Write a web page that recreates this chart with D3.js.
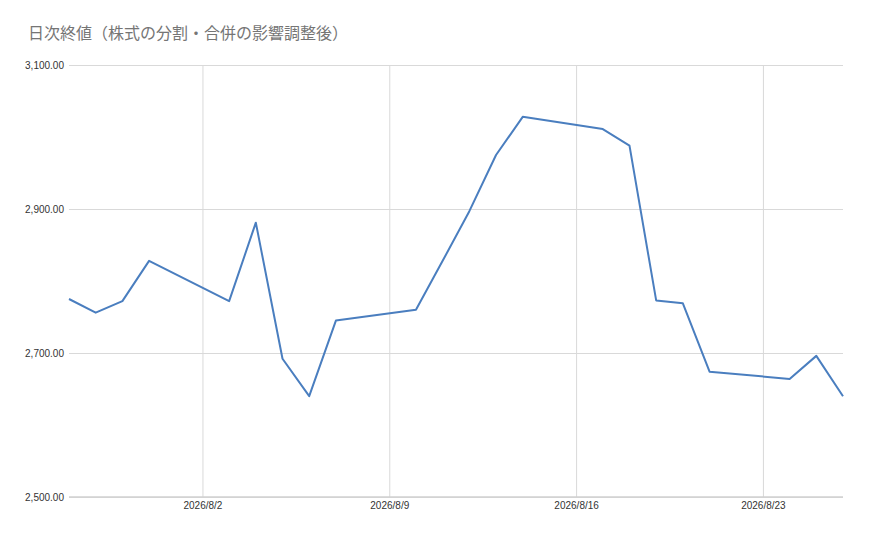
<!DOCTYPE html>
<html>
<head>
<meta charset="utf-8">
<script src="https://cdn.jsdelivr.net/npm/d3@7"></script>
<style>
  body { margin: 0; background: #fff; }
  svg { display: block; }
</style>
</head>
<body>
<div id="chart"></div>
<script>
// closing prices, trading days only
var dates = ["2026-07-28", "2026-07-29", "2026-07-30", "2026-07-31",
  "2026-08-03", "2026-08-04", "2026-08-05", "2026-08-06", "2026-08-07",
  "2026-08-10", "2026-08-11", "2026-08-12", "2026-08-13", "2026-08-14",
  "2026-08-17", "2026-08-18", "2026-08-19", "2026-08-20", "2026-08-21",
  "2026-08-24", "2026-08-25", "2026-08-26"];
var closes = [2775, 2756, 2772, 2828,
  2772, 2881, 2692, 2640, 2745,
  2760, 2828, 2897, 2975, 3028,
  3011, 2988, 2773, 2769, 2674,
  2664, 2696, 2640];
var yTicks = [2500, 2700, 2900, 3100];
var xTicks = ["2026-08-02", "2026-08-09", "2026-08-16", "2026-08-23"];
var title = "日次終値（株式の分割・合併の影響調整後）";

var drawChart = function(){
  var width = 870, height = 538;
  var left = 69, right = 843, top = 65, bottom = 497;
  var fontFamily = "Arial, 'Liberation Sans', 'Noto Sans CJK JP', sans-serif";
  var gridColor = "#d9d9d9";
  var lineColor = "#4a7ebf";

  var parse = d3.timeParse("%Y-%m-%d");
  var data = dates.map(function(d, i){ return {date: parse(d), value: closes[i]}; });

  var svg = d3.select("#chart").append("svg")
    .attr("width", width)
    .attr("height", height);

  var x = d3.scaleTime()
    .domain([parse(dates[0]), parse(dates[dates.length - 1])])
    .range([left, right]);

  var y = d3.scaleLinear()
    .domain([2500, 3100])
    .range([bottom, top]);

  svg.append("text")
    .attr("x", 28)
    .attr("y", 39)
    .attr("font-family", "'Noto Sans CJK JP', sans-serif")
    .attr("font-size", 16)
    .attr("fill", "#757575")
    .text(title);

  // horizontal grid + labels
  var yAxis = d3.axisLeft(y)
    .tickValues(yTicks)
    .tickSize(-(right - left))
    .tickPadding(5)
    .tickFormat(d3.format(",.2f"));

  var gy = svg.append("g")
    .attr("transform", "translate(" + left + ",0)")
    .call(yAxis);
  gy.select(".domain").remove();
  gy.selectAll("line").attr("stroke", gridColor);
  gy.selectAll("text")
    .attr("font-family", fontFamily)
    .attr("font-size", 10)
    .attr("fill", "#333");

  // vertical grid + date labels
  var xAxis = d3.axisBottom(x)
    .tickValues(xTicks.map(parse))
    .tickSize(-(bottom - top))
    .tickPadding(5)
    .tickFormat(d3.timeFormat("%Y/%-m/%-d"));

  var gx = svg.append("g")
    .attr("transform", "translate(0," + bottom + ")")
    .call(xAxis);
  gx.select(".domain").remove();
  gx.selectAll("line").attr("stroke", gridColor);
  gx.selectAll("text")
    .attr("font-family", fontFamily)
    .attr("font-size", 10)
    .attr("fill", "#333");

  // baseline
  svg.append("line")
    .attr("x1", left).attr("x2", right)
    .attr("y1", y(2500)).attr("y2", y(2500))
    .attr("stroke", "#d0d0d0")
    .attr("stroke-width", 1.5);

  var line = d3.line()
    .x(function(d){ return x(d.date); })
    .y(function(d){ return y(d.value); });

  svg.append("path")
    .datum(data)
    .attr("fill", "none")
    .attr("stroke", lineColor)
    .attr("stroke-width", 2)
    .attr("stroke-linejoin", "round")
    .attr("d", line);
};

drawChart();
</script>
</body>
</html>
